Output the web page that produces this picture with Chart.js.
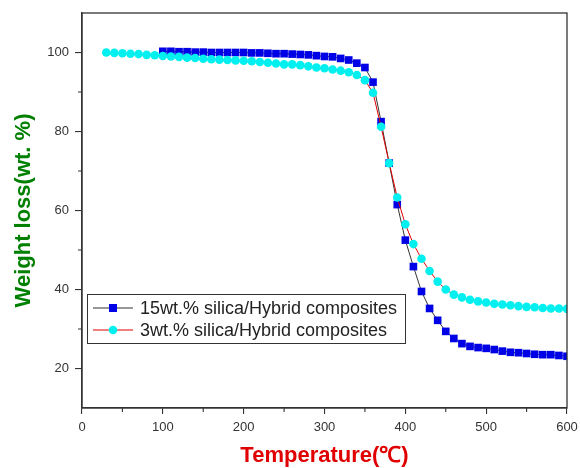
<!DOCTYPE html>
<html>
<head>
<meta charset="utf-8">
<script src="https://cdn.jsdelivr.net/npm/chart.js@4.4.0/dist/chart.umd.min.js"></script>
<style>
  body { margin: 0; background: #fff; }
</style>
</head>
<body>
<canvas id="tga" width="580" height="468"></canvas>
<script>
// axis ticks
var xTicks = [0, 100, 200, 300, 400, 500, 600];
var xMinor = [50, 150, 250, 350, 450, 550];
var yTicks = [20, 40, 60, 80, 100];
var yMinor = [30, 50, 70, 90];

var seriesNames = ["15wt.% silica/Hybrid composites", "3wt.% silica/Hybrid composites"];

// 15wt.% silica
var tempA = [100, 110, 120, 130, 140, 150, 160, 170, 180, 190,
             200, 210, 220, 230, 240, 250, 260, 270, 280, 290,
             300, 310, 320, 330, 340, 350, 360, 370, 380, 390,
             400, 410, 420, 430, 440, 450, 460, 470, 480, 490,
             500, 510, 520, 530, 540, 550, 560, 570, 580, 590, 600];
var weightA = [100.3, 100.3, 100.2, 100.2, 100.1, 100.1, 100.0, 100.0, 100.0, 100.0,
               100.0, 99.9, 99.9, 99.8, 99.7, 99.7, 99.6, 99.5, 99.4, 99.2,
               99.0, 98.9, 98.5, 98.1, 97.3, 96.2, 92.5, 82.5, 72.0, 61.5,
               52.5, 45.8, 39.5, 35.2, 32.2, 29.4, 27.6, 26.3, 25.6, 25.3,
               25.1, 24.8, 24.4, 24.1, 24.0, 23.8, 23.6, 23.5, 23.5, 23.3, 23.1];

// 3wt.% silica
var tempB = [30, 40, 50, 60, 70, 80, 90,
             100, 110, 120, 130, 140, 150, 160, 170, 180, 190,
             200, 210, 220, 230, 240, 250, 260, 270, 280, 290,
             300, 310, 320, 330, 340, 350, 360, 370, 380, 390,
             400, 410, 420, 430, 440, 450, 460, 470, 480, 490,
             500, 510, 520, 530, 540, 550, 560, 570, 580, 590, 600];
var weightB = [100.0, 99.9, 99.8, 99.7, 99.6, 99.4, 99.3,
               99.1, 99.0, 98.9, 98.7, 98.6, 98.4, 98.3, 98.2, 98.1, 98.0,
               97.9, 97.8, 97.6, 97.4, 97.2, 97.0, 97.0, 96.8, 96.5, 96.2,
               96.0, 95.7, 95.4, 95.0, 94.3, 93.0, 89.8, 81.2, 72.0, 63.3,
               56.5, 51.5, 47.8, 44.7, 42.0, 40.0, 38.7, 38.0, 37.4, 37.0,
               36.7, 36.4, 36.2, 36.0, 35.8, 35.6, 35.5, 35.3, 35.2, 35.2, 35.1];

function pairs(xs, ys) {
  return xs.map(function (x, i) { return { x: x, y: ys[i] }; });
}

var FONT = "'Liberation Sans', Arial, sans-serif";
var BLUE = "#0000e6", CYAN = "#00f0f0";

// frame, minor ticks and the boxed legend inside the plot
var extras = {
  id: "extras",
  afterDraw: function (chart) {
    var c = chart.ctx, a = chart.chartArea;
    var xs = chart.scales.x, ys = chart.scales.y;
    c.save();
    c.strokeStyle = "#333";
    c.lineWidth = 1.3;
    c.strokeRect(a.left, a.top, a.right - a.left, a.bottom - a.top);
    c.lineWidth = 1.1;
    c.beginPath();
    xMinor.forEach(function (v) {
      var p = xs.getPixelForValue(v);
      c.moveTo(p, a.bottom); c.lineTo(p, a.bottom + 4);
    });
    yMinor.forEach(function (v) {
      var p = ys.getPixelForValue(v);
      c.moveTo(a.left, p); c.lineTo(a.left - 4, p);
    });
    c.stroke();

    // legend
    var bx = 87, by = 294, bw = 318, bh = 49;
    c.fillStyle = "#fff";
    c.fillRect(bx, by, bw, bh);
    c.strokeStyle = "#333";
    c.lineWidth = 1;
    c.strokeRect(bx + 0.5, by + 0.5, bw, bh);
    var rows = [
      { y: 308, line: "#333", fill: BLUE, square: true },
      { y: 330, line: "#e00000", fill: CYAN, square: false }
    ];
    c.font = "18px " + FONT;
    c.textBaseline = "middle";
    rows.forEach(function (r, i) {
      c.strokeStyle = r.line;
      c.lineWidth = 1;
      c.beginPath();
      c.moveTo(93, r.y); c.lineTo(133, r.y);
      c.stroke();
      c.fillStyle = r.fill;
      if (r.square) {
        c.fillRect(109, r.y - 4, 8, 8);
      } else {
        c.beginPath();
        c.arc(113, r.y, 4.3, 0, Math.PI * 2);
        c.fill();
      }
      c.fillStyle = "#222";
      c.fillText(seriesNames[i], 140, r.y + 1);
    });
    c.restore();
  }
};

new Chart(document.getElementById("tga"), {
  type: "line",
  data: {
    datasets: [
      {
        label: seriesNames[0],
        data: pairs(tempA, weightA),
        borderColor: "#333",
        borderWidth: 1,
        pointStyle: "rect",
        pointRadius: 5.4,
        pointBackgroundColor: BLUE,
        pointBorderWidth: 0,
        order: 1
      },
      {
        label: seriesNames[1],
        data: pairs(tempB, weightB),
        borderColor: "#e00000",
        borderWidth: 1,
        pointStyle: "circle",
        pointRadius: 4.3,
        pointBackgroundColor: CYAN,
        pointBorderWidth: 0,
        order: 0
      }
    ]
  },
  options: {
    responsive: false,
    animation: false,
    layout: { padding: { top: 13, right: 13, left: 0, bottom: 0 } },
    plugins: {
      legend: { display: false },
      tooltip: { enabled: false }
    },
    scales: {
      x: {
        type: "linear",
        min: 0,
        max: 600,
        afterBuildTicks: function (s) { s.ticks = xTicks.map(function (v) { return { value: v }; }); },
        afterFit: function (s) { s.height = 60; s.paddingLeft = 0; s.paddingRight = 0; },
        grid: { drawOnChartArea: false, drawTicks: true, tickLength: 6, color: "#333", lineWidth: 1.1 },
        border: { display: true, color: "#333", width: 1.3 },
        ticks: { color: "#333", padding: 6, maxRotation: 0, font: { family: FONT, size: 13 } },
        title: {
          display: true,
          text: "Temperature(℃)",
          color: "#e00000",
          padding: { top: 0, bottom: 1 },
          font: { family: FONT, size: 22, weight: "bold", lineHeight: 1 }
        }
      },
      y: {
        min: 10,
        max: 110,
        afterBuildTicks: function (s) { s.ticks = yTicks.map(function (v) { return { value: v }; }); },
        afterFit: function (s) { s.width = 82; s.paddingTop = 0; s.paddingBottom = 0; },
        grid: { drawOnChartArea: false, drawTicks: true, tickLength: 7, color: "#333", lineWidth: 1.1 },
        border: { display: true, color: "#333", width: 1.3 },
        ticks: { color: "#333", padding: 6, font: { family: FONT, size: 13 } },
        title: {
          display: true,
          text: "Weight loss(wt. %)",
          color: "#008000",
          padding: { top: 13, bottom: 0 },
          font: { family: FONT, size: 22, weight: "bold", lineHeight: 1 }
        }
      }
    }
  },
  plugins: [extras]
});
</script>
</body>
</html>
